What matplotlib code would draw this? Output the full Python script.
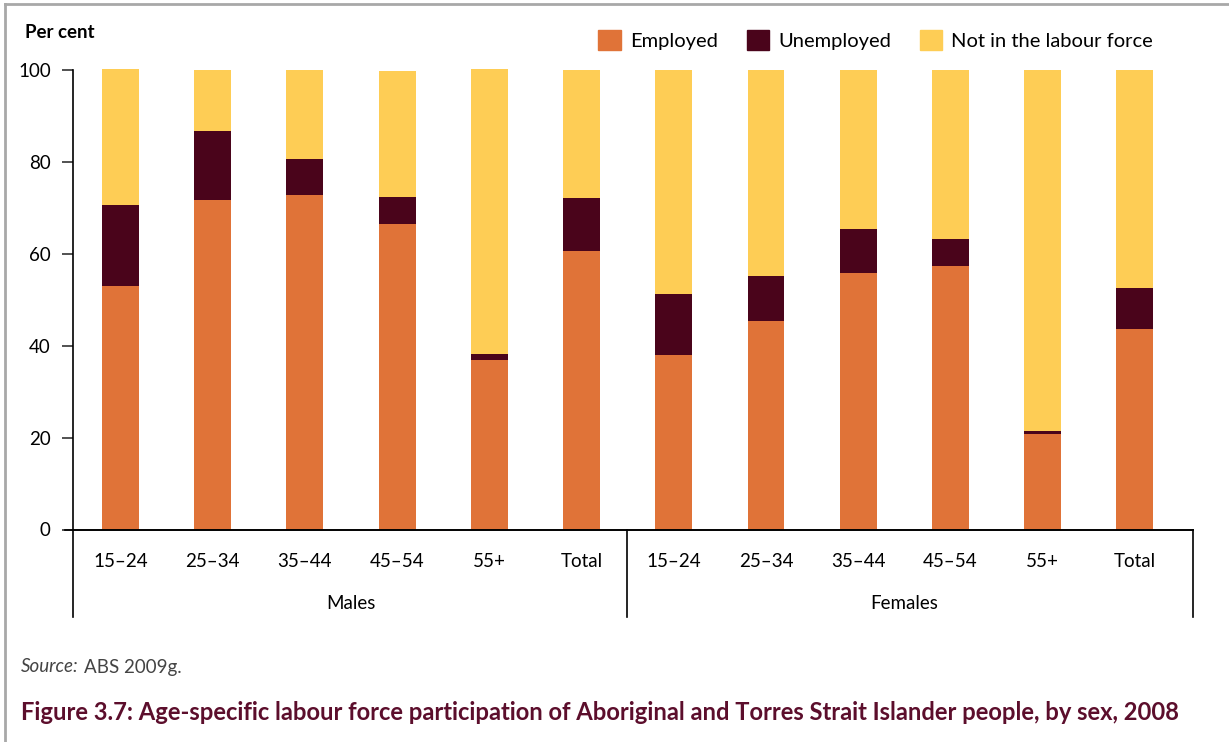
import matplotlib
matplotlib.use('Agg')
import numpy as np
import matplotlib.pyplot as plt
from matplotlib.patches import Patch
from matplotlib.lines import Line2D

plt.rcParams['font.family'] = ['Lato', 'DejaVu Sans']

# Data (per cent)
ages = ['15–24', '25–34', '35–44', '45–54', '55+', 'Total']
groups = ['Males', 'Females']
employed = [53.0, 71.7, 72.8, 66.5, 36.9, 60.6,
            37.9, 45.4, 55.8, 57.3, 20.8, 43.6]
unemployed = [17.6, 15.0, 7.8, 5.9, 1.3, 11.5,
              13.4, 9.8, 9.6, 5.9, 0.6, 9.0]
not_in_lf = [29.6, 13.3, 19.4, 27.4, 62.0, 27.9,
             48.7, 44.8, 34.6, 36.8, 78.6, 47.4]

C_EMP = '#E07338'
C_UNEMP = '#4A041B'
C_NILF = '#FECD55'
C_TITLE = '#5C0E2C'

fig = plt.figure(figsize=(12.29, 7.42), dpi=100)
ax = fig.add_axes([73 / 1229, 1 - 529.5 / 742, 1120 / 1229, 459.5 / 742])

x = np.arange(len(employed))
w = 0.4
emp = np.array(employed)
une = np.array(unemployed)
nil = np.array(not_in_lf)
ax.bar(x, emp, w, color=C_EMP, clip_on=False)
ax.bar(x, une, w, bottom=emp, color=C_UNEMP, clip_on=False)
ax.bar(x, nil, w, bottom=emp + une, color=C_NILF, clip_on=False)

ax.set_xlim(-0.515, 11.63)
ax.set_ylim(0, 100)
ax.set_yticks([0, 20, 40, 60, 80, 100])
ax.tick_params(axis='y', length=8, width=1.2, labelsize=13.5, pad=8, color='#333333')
ax.set_xticks([])
for s in ['top', 'right']:
    ax.spines[s].set_visible(False)
ax.spines['left'].set_linewidth(1.2)
ax.spines['bottom'].set_linewidth(1.2)

# x labels and group separators below the axis
trans = ax.get_xaxis_transform()
for i, lab in enumerate(ages * 2):
    ax.text(x[i], -0.07, lab, transform=trans, ha='center', va='center', fontsize=13.5)
for j, g in enumerate(groups):
    ax.text(2.5 + 6 * j, -0.16, g, transform=trans, ha='center', va='center', fontsize=13.5)
for xs in [-0.515, 5.49, 11.63]:
    ax.add_line(Line2D([xs, xs], [0, -0.19], transform=trans, color='black',
                       lw=1.2, clip_on=False))
ax.add_line(Line2D([-0.6, 11.63], [0, 0], transform=trans, color='black',
                   lw=1.2, clip_on=False))

# legend
handles = [Patch(color=C_EMP, label='Employed'),
           Patch(color=C_UNEMP, label='Unemployed'),
           Patch(color=C_NILF, label='Not in the labour force')]
fig.legend(handles=handles, loc='center right', bbox_to_anchor=(1153 / 1229, 1 - 40 / 742),
           ncol=3, frameon=False, fontsize=14.5, handlelength=1.1, handleheight=1.1,
           handletextpad=0.45, columnspacing=1.45, borderpad=0, borderaxespad=0)

fig.text(25 / 1229, 1 - 33 / 742, 'Per cent', fontsize=13.5, fontweight='bold',
         ha='left', va='center')
fig.text(21 / 1229, 1 - 667 / 742, 'Source:', fontsize=13.5, style='italic',
         ha='left', va='center', color='#444444')
fig.text(84 / 1229, 1 - 667 / 742, 'ABS 2009g.', fontsize=13.5,
         ha='left', va='center', color='#444444')
fig.text(21 / 1229, 1 - 713 / 742,
         'Figure 3.7: Age-specific labour force participation of Aboriginal and '
         'Torres Strait Islander people, by sex, 2008',
         fontsize=17.1, fontweight='bold', color=C_TITLE, ha='left', va='center')

# frame lines at top and left
fig.add_artist(Line2D([5 / 1229, 1], [1 - 4 / 742, 1 - 4 / 742], color='#A8A8A8', lw=2))
fig.add_artist(Line2D([5 / 1229, 5 / 1229], [0, 1 - 4 / 742], color='#A8A8A8', lw=2))

fig.savefig('out.png', dpi=100)
